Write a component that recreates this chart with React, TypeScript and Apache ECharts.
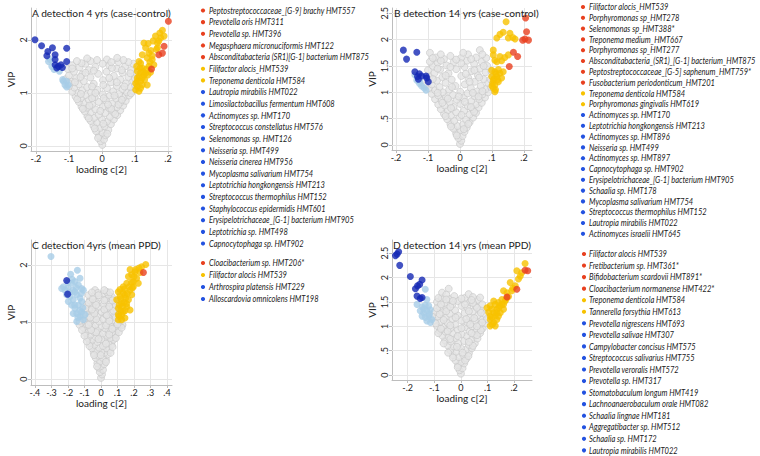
import React, { useEffect, useRef } from 'react';
import * as echarts from 'echarts';

// Colours for the VIP groups
const RED = '#e8401f';
const ORANGE = '#f7c200';
const NAVY = '#1428b4';
const LIGHT = '#a8cde7';
const LEG_BLUE = '#2352e0';

// ---------- A: detection 4 yrs (case-control) ----------
const grayA: number[][] = [
  [0.001,0.02],[-0.004,0.09],[0.006,0.12],[-0.009,0.19],[0.011,0.2],[0.002,0.25],
  [-0.018,0.28],[0.019,0.3],[-0.006,0.34],[0.008,0.37],[-0.026,0.38],[0.027,0.41],
  [-0.015,0.44],[0.015,0.46],[-0.034,0.47],[0.036,0.5],[0,0.5],[-0.024,0.53],[0.024,0.55],
  [-0.044,0.56],[0.046,0.58],[-0.01,0.59],[0.01,0.62],[-0.034,0.63],[0.034,0.64],
  [-0.052,0.65],[0.055,0.67],[-0.02,0.69],[0.022,0.71],[-0.045,0.72],[0.045,0.73],[0.002,0.74],
  [-0.062,0.74],[0.064,0.76],[-0.03,0.78],[0.032,0.8],[-0.055,0.81],[0.056,0.82],[-0.01,0.83],[0.012,0.86],
  [-0.07,0.83],[0.072,0.85],[-0.04,0.87],[0.043,0.89],[-0.064,0.9],[0.066,0.92],[-0.022,0.92],[0.024,0.95],
  [-0.08,0.93],[0.082,0.95],[-0.05,0.96],[0.052,0.98],[0.002,0.97],[-0.074,1.0],[0.075,1.01],[-0.033,1.01],[0.034,1.03],
  [-0.09,1.02],[0.093,1.04],[-0.06,1.05],[0.062,1.07],[-0.014,1.06],[0.015,1.09],[-0.084,1.1],[0.086,1.11],
  [-0.045,1.11],[0.045,1.13],[-0.1,1.13],[0.1,1.15],[-0.07,1.16],[0.072,1.18],[-0.025,1.17],[0.027,1.2],
  [-0.092,1.21],[0.094,1.23],[-0.055,1.22],[0.056,1.25],[0.003,1.24],[-0.11,1.26],[-0.078,1.28],[0.08,1.3],
  [-0.035,1.29],[0.036,1.32],[-0.1,1.33],[0.1,1.36],[-0.06,1.35],[0.062,1.38],[-0.012,1.36],[0.014,1.4],
  [-0.085,1.4],[0.088,1.43],[-0.04,1.43],[0.045,1.46],[-0.104,1.45],[-0.068,1.48],[0.07,1.5],[-0.02,1.49],[0.022,1.52],
  [-0.09,1.52],[0.095,1.55],[-0.05,1.55],[0.05,1.58],[-0.062,1.56],[-0.015,1.62],[0.015,1.63],[0.046,1.66],
  [-0.035,1.6],[0.08,1.58],[-0.1,1.18],[0.1,1.27],
  [-0.012,0.15],[0.016,0.23],[-0.022,0.33],[0.004,0.42],[-0.04,0.52],[0.04,0.6],[-0.005,0.66],[0.028,0.7],
  [-0.058,0.7],[0.05,0.78],[-0.038,0.76],[0.018,0.78],[-0.075,0.88],[0.06,0.87],[-0.03,0.9],[0.005,0.9],
  [0.038,0.95],[-0.064,0.98],[0.088,0.99],[-0.02,1.0],[0.068,1.12],[-0.03,1.12],[0.004,1.15],[-0.082,1.2],
  [0.045,1.2],[-0.065,1.3],[0.022,1.28],[0.086,1.37],[-0.05,1.38],[-0.025,1.42],[0.06,1.43],[-0.09,1.46],
  [0.03,1.47],[0.002,1.55],[-0.076,1.6],[0.065,1.62],[-0.045,1.65],[0.028,1.58],
];
const lightA: number[][] = [
  [-0.157,1.63],[-0.152,1.5],[-0.145,1.44],[-0.129,1.41],[-0.119,1.25],[-0.117,1.22],
  [-0.107,1.22],[-0.112,1.15],[-0.102,1.15],[-0.107,1.11],[-0.162,1.59],
];
const orangeA: number[][] = [
  [0.102,1.06],[0.107,1.12],[0.102,1.18],[0.107,1.28],[0.105,1.5],[0.107,1.41],[0.117,1.56],
  [0.122,1.47],[0.127,1.34],[0.117,1.22],[0.129,1.25],[0.137,1.15],[0.127,1.94],[0.132,1.85],
  [0.142,1.75],[0.122,1.72],[0.137,1.66],[0.152,1.63],[0.157,1.53],[0.142,1.5],[0.168,1.94],
  [0.168,1.85],[0.178,2.04],[0.175,2.13],[0.183,2.18],[0.188,2.07],[0.162,2.07],[0.165,1.82],
  [0.112,1.59],[0.147,1.39],[0.139,1.34],[0.112,1.03],[0.117,1.09],[0.122,1.15],[0.132,1.37],
  [0.112,1.31],[0.117,1.38],[0.107,1.22],[0.125,1.4],[0.122,1.28],[0.135,1.45],[0.145,1.58],
  [0.115,1.47],[0.152,1.7],[0.14,1.93],[0.155,1.98],[0.172,1.98],[0.148,1.8],
];
const navyA: number[][] = [
  [-0.203,2.0],[-0.183,1.89],[-0.164,1.78],[-0.167,1.7],[-0.15,1.85],[-0.142,1.72],[-0.107,1.84],
  [-0.142,1.63],[-0.142,1.53],[-0.132,1.5],[-0.124,1.53],[-0.107,1.59],[-0.137,1.47],[-0.12,1.48],
];
const redA: number[][] = [[0.201,2.35],[0.172,1.72],[0.183,1.75],[0.188,1.88],[0.15,1.45]];

// ---------- B: detection 14 yrs (case-control) ----------
const grayB: number[][] = [
  [0,0.02],[0.004,0.08],[-0.005,0.13],[0.008,0.17],[-0.012,0.22],[0.014,0.25],[0.001,0.28],
  [-0.02,0.31],[0.021,0.33],[-0.008,0.36],[0.01,0.39],[-0.03,0.4],[0.03,0.43],[-0.018,0.46],[0.019,0.48],
  [-0.04,0.49],[0.041,0.52],[-0.002,0.53],[-0.028,0.56],[0.03,0.58],[-0.05,0.59],[0.05,0.61],[-0.012,0.62],[0.013,0.65],
  [-0.038,0.66],[0.04,0.68],[-0.06,0.68],[0.058,0.71],[-0.02,0.72],[0.024,0.74],[-0.048,0.75],[0.05,0.77],[0.001,0.78],
  [-0.068,0.77],[0.068,0.8],[-0.032,0.81],[0.035,0.83],[-0.058,0.85],[0.06,0.87],[-0.01,0.86],[0.012,0.89],
  [-0.078,0.87],[0.078,0.9],[-0.044,0.91],[0.045,0.93],[-0.068,0.94],[0.07,0.96],[-0.022,0.95],[0.024,0.98],
  [-0.088,0.97],[0.088,1.0],[-0.054,1.0],[0.055,1.02],[0.001,1.01],[-0.078,1.04],[0.08,1.06],[-0.034,1.05],[0.034,1.08],
  [-0.098,1.08],[0.097,1.1],[-0.064,1.1],[0.065,1.12],[-0.014,1.12],[0.015,1.15],[-0.088,1.15],[0.088,1.18],
  [-0.045,1.18],[0.046,1.2],[-0.1,1.22],[-0.072,1.22],[0.074,1.25],[-0.026,1.24],[0.026,1.27],[-0.095,1.3],
  [-0.055,1.29],[0.056,1.32],[0.004,1.31],[-0.08,1.36],[0.08,1.38],[-0.036,1.36],[0.036,1.4],[-0.1,1.42],
  [-0.062,1.43],[0.062,1.45],[-0.012,1.44],[0.014,1.48],[-0.085,1.5],[0.085,1.5],[-0.042,1.51],[0.044,1.54],
  [-0.07,1.56],[0.068,1.58],[-0.02,1.57],[0.022,1.6],[-0.094,1.58],[-0.05,1.63],[0.05,1.66],[-0.03,1.69],[0.025,1.72],
  [-0.094,1.75],[0.062,1.8],[-0.075,1.66],[0.082,1.65],[0.003,1.65],[-0.11,1.12],[0.095,1.25],[0.098,1.4],
  [-0.01,0.18],[0.012,0.3],[-0.028,0.35],[0.026,0.4],[-0.045,0.55],[0.005,0.57],[0.044,0.63],[-0.028,0.7],
  [0.034,0.72],[-0.055,0.8],[0.015,0.82],[-0.038,0.88],[0.058,0.92],[-0.004,0.92],[-0.07,0.99],[0.04,0.99],
  [0.07,1.02],[-0.025,1.1],[-0.085,1.25],[0.03,1.2],[0.06,1.28],[-0.045,1.32],[0.018,1.35],[-0.07,1.45],
  [0.045,1.42],[-0.03,1.48],[0.074,1.5],[0.004,1.55],[-0.06,1.6],[0.035,1.63],[-0.012,1.62],[-0.085,1.65],
  [0.07,1.72],[-0.06,1.72],[0.01,1.75],
];
const lightB: number[][] = [
  [-0.141,1.33],[-0.135,1.23],[-0.127,1.17],[-0.12,1.12],[-0.112,1.08],[-0.106,1.04],[-0.125,1.2],
];
const orangeB: number[][] = [
  [0.144,2.34],[0.115,2.03],[0.135,2.14],[0.156,2.12],[0.165,2.04],[0.172,2.01],[0.151,2.03],
  [0.104,1.8],[0.104,1.71],[0.109,1.61],[0.125,1.68],[0.115,1.58],[0.151,1.71],[0.099,1.42],
  [0.109,1.39],[0.115,1.3],[0.125,1.36],[0.135,1.39],[0.13,1.27],[0.104,1.23],[0.109,1.14],
  [0.104,1.08],[0.109,1.01],[0.12,1.2],[0.099,1.3],[0.102,1.17],
  [0.107,1.26],[0.113,1.35],[0.118,1.24],[0.111,1.05],[0.1,1.12],[0.12,1.43],[0.13,1.6],[0.14,1.66],[0.125,2.1],
];
const navyB: number[][] = [
  [-0.177,1.8],[-0.167,1.63],[-0.135,1.76],[-0.141,1.39],[-0.127,1.35],[-0.133,1.3],
  [-0.13,1.25],[-0.106,1.31],[-0.104,1.27],[-0.099,1.2],[-0.12,1.31],
];
const redB: number[][] = [
  [0.205,2.41],[0.208,2.15],[0.214,1.99],[0.196,1.99],[0.203,2.01],[0.167,1.76],[0.18,1.68],[0.154,1.49],
];

// ---------- C: detection 4yrs (mean PPD) ----------
const grayC: number[][] = [
  [0,0.02],[0.006,0.08],[-0.007,0.12],[0.012,0.16],[-0.014,0.2],[0.003,0.23],[0.02,0.26],[-0.022,0.28],
  [-0.006,0.31],[0.03,0.34],[0.012,0.37],[-0.032,0.37],[-0.016,0.41],[0.04,0.43],[0.022,0.46],[-0.044,0.46],[0.002,0.47],
  [-0.028,0.5],[0.052,0.51],[0.034,0.54],[-0.056,0.54],[-0.012,0.55],[0.012,0.58],[-0.04,0.6],[0.064,0.6],[0.046,0.63],
  [-0.068,0.63],[-0.022,0.65],[0.024,0.67],[0.002,0.7],[-0.052,0.69],[0.076,0.69],[0.056,0.72],[-0.08,0.72],[-0.034,0.74],
  [0.036,0.76],[-0.01,0.78],[0.012,0.8],[-0.062,0.78],[0.088,0.78],[0.066,0.82],[-0.094,0.81],[-0.044,0.83],[0.046,0.85],
  [-0.022,0.86],[0.024,0.89],[-0.074,0.87],[0.1,0.87],[0.078,0.91],[-0.106,0.9],[-0.054,0.92],[0.056,0.94],[0.002,0.93],
  [-0.034,0.95],[0.035,0.98],[-0.086,0.96],[0.114,0.96],[0.09,1.0],[-0.12,0.99],[-0.066,1.0],[0.068,1.03],[-0.012,1.01],
  [0.014,1.05],[-0.044,1.05],[0.046,1.08],[-0.098,1.06],[0.104,1.1],[-0.078,1.1],[0.082,1.13],[-0.024,1.1],[0.026,1.14],
  [-0.056,1.14],[0.058,1.18],[-0.092,1.17],[0.096,1.21],[0.002,1.18],[-0.036,1.2],[0.038,1.24],[-0.07,1.24],[0.072,1.27],
  [-0.014,1.27],[0.016,1.31],[-0.05,1.3],[0.05,1.34],[-0.088,1.3],[0.088,1.36],[-0.03,1.36],[0.03,1.4],[-0.068,1.38],
  [0.066,1.44],[-0.008,1.43],[-0.046,1.45],[0.045,1.48],[0.012,1.5],[-0.036,1.56],[0.034,1.53],[-0.075,1.47],[-0.02,1.51],
  [-0.13,0.95],[0.13,0.95],[-0.11,1.05],
  [-0.024,0.22],[0.03,0.3],[-0.042,0.42],[0.058,0.46],[-0.002,0.42],[0.07,0.56],[-0.07,0.58],[0.03,0.62],
  [-0.086,0.66],[0.09,0.72],[-0.015,0.7],[0.05,0.78],[-0.1,0.76],[0.108,0.82],[-0.03,0.82],[-0.06,0.86],
  [0.068,0.88],[0.125,0.9],[-0.115,0.86],[0.03,0.94],[-0.075,0.95],[0.1,0.96],[-0.13,1.02],[0.05,1.02],
  [-0.03,1.05],[0.12,1.04],[-0.065,1.08],[0.09,1.08],[0.035,1.12],[-0.04,1.15],[-0.105,1.13],[0.075,1.2],
  [0.02,1.22],[-0.055,1.22],[-0.095,1.24],[0.05,1.27],[-0.03,1.3],[0.09,1.3],[-0.075,1.34],[0.02,1.38],
  [-0.05,1.4],[0.07,1.38],[-0.015,1.47],[0.055,1.52],[-0.055,1.52],[0.02,1.56],
];
const lightC: number[][] = [
  [-0.303,2.15],[-0.184,1.84],[-0.143,1.91],[-0.228,1.62],[-0.218,1.56],[-0.238,1.59],[-0.178,1.68],
  [-0.158,1.71],[-0.127,1.77],[-0.117,1.59],[-0.107,1.56],[-0.158,1.53],[-0.188,1.45],[-0.168,1.39],
  [-0.147,1.48],[-0.127,1.42],[-0.178,1.3],[-0.158,1.24],[-0.137,1.3],[-0.117,1.36],[-0.147,1.15],
  [-0.127,1.1],[-0.107,1.04],[-0.117,1.18],[-0.168,1.15],[-0.097,1.13],[-0.198,1.36],[-0.208,1.48],
  [-0.137,1.65],[-0.147,1.01],
  [-0.13,1.2],[-0.16,1.3],[-0.19,1.52],[-0.2,1.6],[-0.17,1.56],[-0.15,1.6],[-0.12,1.5],[-0.11,1.25],
  [-0.14,1.08],[-0.175,1.75],[-0.2,1.7],
];
const orangeC: number[][] = [
  [0.271,2.01],[0.246,1.97],[0.176,1.92],[0.206,1.88],[0.186,1.83],[0.216,1.77],[0.196,1.71],
  [0.156,1.68],[0.135,1.62],[0.105,1.53],[0.115,1.45],[0.145,1.48],[0.176,1.56],[0.166,1.39],
  [0.125,1.33],[0.105,1.24],[0.105,1.13],[0.105,1.04],[0.135,1.18],[0.145,1.07],[0.156,1.27],
  [0.186,1.48],[0.196,1.62],[0.226,1.68],[0.236,1.87],[0.125,1.04],[0.135,1.51],[0.115,1.57],
  [0.166,1.8],[0.095,1.39],[0.176,1.21],
  [0.11,1.1],[0.12,1.2],[0.13,1.28],[0.14,1.35],[0.15,1.42],[0.12,1.41],[0.16,1.5],[0.17,1.62],
  [0.185,1.7],[0.2,1.8],[0.21,1.92],[0.145,1.2],[0.125,1.12],[0.155,1.32],[0.11,1.3],[0.19,1.6],
  [0.14,1.58],[0.23,1.95],
];
const navyC: number[][] = [[-0.208,1.73],[-0.202,1.49]];
const redC: number[][] = [[0.257,1.87]];

// ---------- D: detection 14 yrs (mean PPD) ----------
const grayD: number[][] = [
  [0,0.03],[-0.005,0.1],[0.006,0.14],[-0.011,0.2],[0.012,0.24],[0,0.27],[-0.02,0.3],[0.021,0.34],[-0.008,0.37],[0.009,0.41],
  [-0.03,0.41],[0.03,0.45],[-0.018,0.48],[0.018,0.52],[-0.04,0.51],[0.041,0.55],[0,0.55],[-0.028,0.59],[0.03,0.62],[-0.05,0.61],
  [0.052,0.65],[-0.01,0.65],[0.012,0.7],[-0.038,0.69],[0.04,0.73],[-0.06,0.71],[0.062,0.75],[-0.02,0.76],[0.022,0.8],[-0.048,0.79],
  [0.05,0.83],[-0.07,0.81],[0.072,0.86],[0.002,0.84],[-0.03,0.86],[0.032,0.9],[-0.058,0.89],[0.06,0.93],[-0.08,0.91],[0.082,0.96],
  [-0.012,0.93],[0.014,0.98],[-0.04,0.96],[0.042,1.0],[-0.068,0.99],[0.07,1.03],[-0.09,1.01],[0.092,1.06],[-0.022,1.04],[0.024,1.08],
  [-0.05,1.07],[0.052,1.11],[-0.078,1.09],[0.08,1.14],[0.002,1.12],[-0.1,1.12],[-0.032,1.15],[0.034,1.19],[-0.06,1.18],[0.062,1.22],
  [-0.088,1.2],[0.09,1.25],[-0.012,1.22],[0.014,1.27],[-0.042,1.26],[0.044,1.3],[-0.07,1.29],[0.072,1.34],[-0.098,1.3],[-0.022,1.33],
  [0.024,1.38],[-0.052,1.37],[0.054,1.42],[-0.08,1.4],[0.08,1.45],[0.002,1.42],[-0.032,1.45],[0.034,1.5],[-0.062,1.48],[0.062,1.54],
  [-0.09,1.5],[-0.012,1.52],[0.014,1.58],[-0.044,1.56],[-0.072,1.58],[-0.025,1.62],[0.029,1.66],[-0.071,1.69],[-0.046,1.77],[0.072,1.59],
  [-0.055,1.65],[0.045,1.6],[-0.108,1.2],[0.098,1.15],
  [-0.012,0.16],[0.016,0.3],[-0.03,0.36],[0.028,0.39],[-0.048,0.46],[0.006,0.46],[0.045,0.6],[-0.015,0.58],
  [-0.065,0.65],[0.03,0.68],[0.06,0.82],[-0.04,0.74],[-0.012,0.8],[0.04,0.86],[-0.085,0.86],[0.075,0.92],
  [-0.05,0.9],[0.002,0.96],[-0.075,0.95],[0.06,1.0],[0.035,1.04],[-0.04,1.02],[-0.095,1.06],[0.08,1.08],
  [-0.065,1.13],[0.02,1.15],[0.05,1.17],[-0.02,1.18],[-0.08,1.25],[0.075,1.28],[0.03,1.31],[-0.055,1.31],
  [-0.09,1.37],[0.06,1.38],[-0.04,1.4],[0.015,1.45],[-0.075,1.45],[0.045,1.48],[-0.03,1.52],[0.002,1.57],
  [-0.055,1.55],[0.04,1.54],[-0.085,1.58],
];
const lightD: number[][] = [
  [-0.134,1.76],[-0.128,1.55],[-0.165,1.45],[-0.146,1.4],[-0.134,1.43],[-0.121,1.42],[-0.153,1.32],
  [-0.14,1.28],[-0.128,1.32],[-0.115,1.34],[-0.146,1.21],[-0.134,1.18],[-0.121,1.21],[-0.128,1.11],
  [-0.115,1.08],[-0.109,1.14],[-0.14,1.36],[-0.118,1.25],
];
const orangeD: number[][] = [
  [0.241,2.29],[0.21,2.14],[0.223,2.03],[0.216,1.97],[0.185,1.9],[0.204,1.83],[0.16,1.73],[0.173,1.69],
  [0.191,1.73],[0.179,1.61],[0.11,1.42],[0.123,1.52],[0.129,1.45],[0.141,1.49],[0.154,1.45],[0.166,1.52],
  [0.135,1.35],[0.123,1.28],[0.11,1.21],[0.11,1.14],[0.123,1.08],[0.135,1.14],[0.148,1.28],[0.16,1.35],
  [0.141,1.21],[0.11,1.01],[0.129,1.01],[0.098,1.38],[0.154,1.55],
  [0.116,1.18],[0.129,1.22],[0.117,1.35],[0.135,1.28],[0.142,1.38],[0.147,1.42],[0.118,1.04],[0.104,1.29],
  [0.16,1.45],[0.17,1.56],[0.195,1.78],[0.228,2.1],
];
const navyD: number[][] = [
  [-0.246,2.45],[-0.234,2.53],[-0.24,2.48],[-0.23,2.25],[-0.19,2.02],[-0.171,1.77],[-0.163,1.83],
  [-0.155,1.86],[-0.146,1.95],[-0.165,1.62],[-0.153,1.57],[-0.146,1.59],
];
const redD: number[][] = [[0.241,2.15],[0.251,2.14],[0.21,1.76],[0.173,1.6]];

// ---------- axis ticks ----------
const ticksX2 = [-0.2, -0.1, 0, 0.1, 0.2];
const ticksX4 = [-0.4, -0.3, -0.2, -0.1, 0, 0.1, 0.2, 0.3, 0.4];
const ticksY1 = [0, 1, 2];
const ticksY05 = [0, 0.5, 1, 1.5, 2, 2.5];

// ---------- titles ----------
const titles = [
  'A detection 4 yrs (case-control)',
  'B detection 14 yrs (case-control)',
  'C detection 4yrs (mean PPD)',
  'D detection 14 yrs (mean PPD)',
];

// ---------- legend lists ----------
const legendARed = [
  'Peptostreptococcaceae_[G-9] brachy HMT557',
  'Prevotella oris HMT311',
  'Prevotella sp. HMT396',
  'Megasphaera micronuciformis HMT122',
  'Absconditabacteria (SR1)[G-1] bacterium HMT875',
];
const legendAOrange = ['Filifactor alocis_HMT539', 'Treponema denticola HMT584'];
const legendABlue = [
  'Lautropia mirabilis HMT022',
  'Limosilactobacillus fermentum HMT608',
  'Actinomyces sp. HMT170',
  'Streptococcus constellatus HMT576',
  'Selenomonas sp. HMT126',
  'Neisseria sp. HMT499',
  'Neisseria cinerea HMT956',
  'Mycoplasma salivarium HMT754',
  'Leptotrichia hongkongensis HMT213',
  'Streptococcus thermophilus HMT152',
  'Staphylococcus epidermidis HMT601',
  'Erysipelotrichaceae_[G-1] bacterium HMT905',
  'Leptotrichia sp. HMT498',
  'Capnocytophaga sp. HMT902',
];
const legendBRed = [
  'Filifactor alocis_HMT539',
  'Porphyromonas sp_HMT278',
  'Selenomonas sp_HMT388*',
  'Treponema medium_HMT667',
  'Porphyromonas sp_HMT277',
  'Absconditabacteria_(SR1)_[G-1] bacterium_HMT875',
  'Peptostreptococcaceae_[G-5] saphenum_HMT759*',
  'Fusobacterium periodonticum_HMT201',
];
const legendBOrange = ['Treponema denticola HMT584', 'Porphyromonas gingivalis HMT619'];
const legendBBlue = [
  'Actinomyces sp. HMT170',
  'Leptotrichia hongkongensis HMT213',
  'Actinomyces sp. HMT896',
  'Neisseria sp. HMT499',
  'Actinomyces sp. HMT897',
  'Capnocytophaga sp. HMT902',
  'Erysipelotrichaceae_[G-1] bacterium HMT905',
  'Schaalia sp. HMT178',
  'Mycoplasma salivarium HMT754',
  'Streptococcus thermophilus HMT152',
  'Lautropia mirabilis HMT022',
  'Actinomyces israelii HMT645',
];
const legendCRed = ['Cloacibacterium sp. HMT206*'];
const legendCOrange = ['Filifactor alocis HMT539'];
const legendCBlue = ['Arthrospira platensis HMT229', 'Alloscardovia omnicolens HMT198'];
const legendDRed = [
  'Filifactor alocis HMT539',
  'Fretibacterium sp. HMT361*',
  'Bifidobacterium scardovii HMT891*',
  'Cloacibacterium normanense HMT422*',
];
const legendDOrange = ['Treponema denticola HMT584', 'Tannerella forsythia HMT613'];
const legendDBlue = [
  'Prevotella nigrescens HMT693',
  'Prevotella salivae HMT307',
  'Campylobacter concisus HMT575',
  'Streptococcus salivarius HMT755',
  'Prevotella veroralis HMT572',
  'Prevotella sp. HMT317',
  'Stomatobaculum longum HMT419',
  'Lachnoanaerobaculum orale HMT082',
  'Schaalia lingnae HMT181',
  'Aggregatibacter sp. HMT512',
  'Schaalia sp. HMT172',
  'Lautropia mirabilis HMT022',
];

const FONT = 'Lato, "Noto Sans", sans-serif';
const TXT = '#222';

const fmt = (v: number) => {
  if (v === 0) return '0';
  const s = String(Math.abs(v)).replace(/^0\./, '.');
  return (v < 0 ? '-' : '') + s;
};

type Panel = {
  grid: { left: number; top: number; width: number; height: number };
  x: [number, number];
  y: [number, number];
  xt: number[];
  yt: number[];
  gray: number[][];
  light: number[][];
  orange: number[][];
  navy: number[][];
  red: number[][];
  title: string;
  titlePos: [number, number];
};

const panels: Panel[] = [
  { grid: { left: 31, top: 8, width: 141, height: 143 }, x: [-0.215, 0.212], y: [-0.095, 2.6],
    xt: ticksX2, yt: ticksY1, gray: grayA, light: lightA, orange: orangeA, navy: navyA, red: redA,
    title: titles[0], titlePos: [32, 13] },
  { grid: { left: 392, top: 8, width: 140, height: 142 }, x: [-0.2125, 0.225], y: [-0.095, 2.6],
    xt: ticksX2, yt: ticksY05, gray: grayB, light: lightB, orange: orangeB, navy: navyB, red: redB,
    title: titles[1], titlePos: [394, 13] },
  { grid: { left: 31, top: 240, width: 141, height: 145 }, x: [-0.424, 0.43], y: [-0.105, 2.44],
    xt: ticksX4, yt: ticksY1, gray: grayC, light: lightC, orange: orangeC, navy: navyC, red: redC,
    title: titles[2], titlePos: [32, 245] },
  { grid: { left: 392, top: 240, width: 140, height: 140 }, x: [-0.259, 0.267], y: [-0.1, 2.77],
    xt: ticksX2, yt: ticksY05, gray: grayD, light: lightD, orange: orangeD, navy: navyD, red: redD,
    title: titles[3], titlePos: [393, 245] },
];

type LegendBlock = { dotX: number; textX: number; y0: number; step: number; red: string[]; orange: string[]; blue: string[] };

const legendBlocks: LegendBlock[] = [
  { dotX: 203, textX: 209, y0: 10.5, step: 11.65, red: legendARed, orange: legendAOrange, blue: legendABlue },
  { dotX: 203, textX: 209, y0: 263, step: 12, red: legendCRed, orange: legendCOrange, blue: legendCBlue },
  { dotX: 583, textX: 589, y0: 7, step: 10.8, red: legendBRed, orange: legendBOrange, blue: legendBBlue },
  { dotX: 584, textX: 589, y0: 254, step: 11.55, red: legendDRed, orange: legendDOrange, blue: legendDBlue },
];

function buildOption() {
  const grid: any[] = [];
  const xAxis: any[] = [];
  const yAxis: any[] = [];
  const series: any[] = [];
  const graphic: any[] = [];

  const axisLine = { show: true, onZero: false, lineStyle: { color: '#bdbdbd', width: 1 } };
  const tick = { lineStyle: { color: '#bdbdbd' } };

  panels.forEach((p, i) => {
    grid.push({ ...p.grid, containLabel: false, outerBoundsMode: 'none' });
    xAxis.push({
      type: 'value', gridIndex: i, min: p.x[0], max: p.x[1],
      axisLine,
      axisTick: { show: true, length: 3, customValues: p.xt, ...tick },
      axisLabel: { customValues: p.xt, formatter: fmt, fontSize: 9, color: TXT, margin: 3, fontFamily: FONT },
      splitLine: { show: false },
      name: 'loading c[2]', nameLocation: 'middle', nameGap: 11,
      nameTextStyle: { fontSize: 10, color: TXT, fontFamily: FONT },
    });
    yAxis.push({
      type: 'value', gridIndex: i, min: p.y[0], max: p.y[1],
      axisLine,
      axisTick: { show: true, length: 3, customValues: p.yt, ...tick },
      axisLabel: { customValues: p.yt, formatter: fmt, fontSize: 9, color: TXT, margin: 3, rotate: 90, fontFamily: FONT },
      splitLine: { show: false },
      name: 'VIP', nameLocation: 'middle', nameGap: 15,
      nameTextStyle: { fontSize: 10, color: TXT, fontFamily: FONT },
    });

    // light grid lines at the major ticks, under the points
    series.push({
      type: 'lines', coordinateSystem: 'cartesian2d', xAxisIndex: i, yAxisIndex: i, z: 1, silent: true,
      lineStyle: { color: '#e6e6e6', width: 1, opacity: 1, curveness: 0 },
      data: [
        ...p.yt.map((v) => ({ coords: [[p.x[0], v], [p.x[1], v]] })),
        ...p.xt.map((v) => ({ coords: [[v, p.y[0]], [v, p.y[1]]] })),
      ],
    });

    const common = { type: 'scatter', xAxisIndex: i, yAxisIndex: i, symbolSize: 7, clip: false, silent: true };
    series.push({ ...common, z: 2, data: p.gray, itemStyle: { color: '#e3e3e3', borderColor: '#c6c6c6', borderWidth: 0.8 } });
    series.push({ ...common, z: 3, data: p.light, itemStyle: { color: LIGHT } });
    series.push({ ...common, z: 3, data: p.orange, itemStyle: { color: ORANGE } });
    series.push({ ...common, z: 4, data: p.navy, itemStyle: { color: NAVY } });
    series.push({ ...common, z: 4, data: p.red, itemStyle: { color: RED } });

    graphic.push({
      type: 'text', x: p.titlePos[0], y: p.titlePos[1], silent: true, z: 10,
      style: { text: p.title, fontSize: 10.2, fontFamily: FONT, fill: TXT, verticalAlign: 'middle', textVerticalAlign: 'middle' },
    });
  });

  legendBlocks.forEach((b) => {
    const items = [
      ...b.red.map((t) => ({ t, c: RED })),
      ...b.orange.map((t) => ({ t, c: ORANGE })),
      ...b.blue.map((t) => ({ t, c: LEG_BLUE })),
    ];
    items.forEach((it, k) => {
      const y = b.y0 + k * b.step;
      graphic.push({ type: 'circle', silent: true, shape: { cx: b.dotX, cy: y, r: 2.1 }, style: { fill: it.c } });
      graphic.push({
        type: 'text', x: b.textX, y, scaleX: 0.84, silent: true,
        style: { text: it.t, fontSize: 9, fontStyle: 'italic', fontFamily: FONT, fill: TXT, verticalAlign: 'middle', textVerticalAlign: 'middle' },
      });
    });
  });

  return { animation: false, backgroundColor: '#ffffff', grid, xAxis, yAxis, series, graphic };
}

export default function App() {
  const ref = useRef<HTMLDivElement>(null);
  useEffect(() => {
    if (!ref.current) return;
    const chart = echarts.init(ref.current, null, { renderer: 'svg' });
    chart.setOption(buildOption());
    return () => chart.dispose();
  }, []);
  return <div ref={ref} style={{ position: 'fixed', left: 0, top: 0, width: 760, height: 456, background: '#fff' }} />;
}
